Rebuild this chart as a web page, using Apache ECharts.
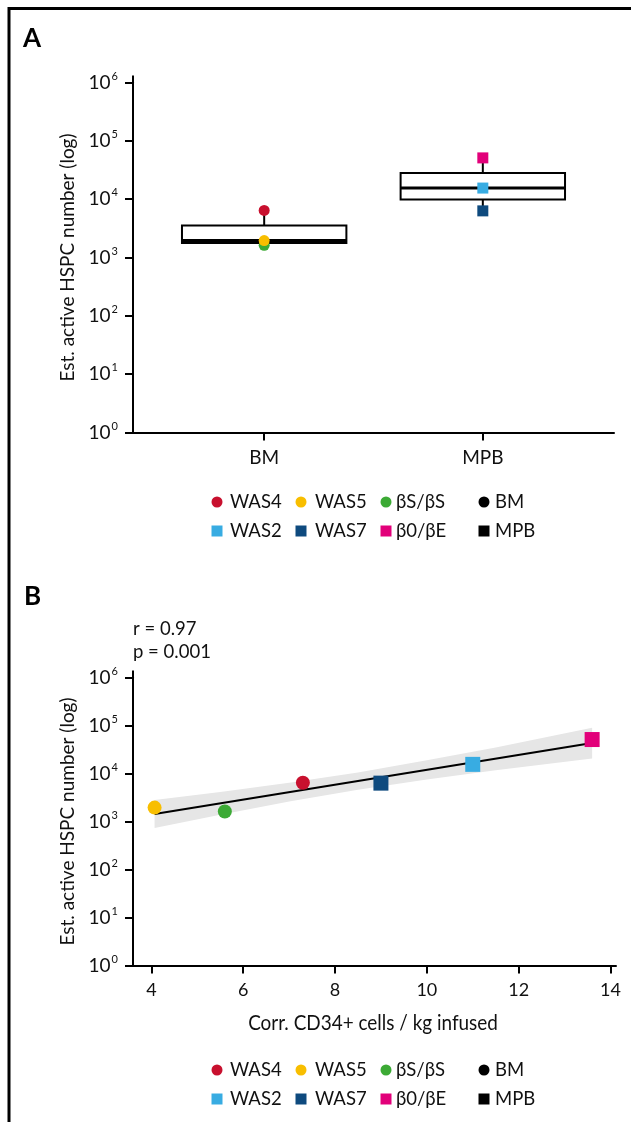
<!DOCTYPE html>
<html>
<head>
<meta charset="utf-8">
<script src="https://cdn.jsdelivr.net/npm/echarts@6/dist/echarts.min.js"></script>
<style>
html, body { margin: 0; padding: 0; background: #fff; }
#chart { width: 631px; height: 1122px; }
</style>
</head>
<body>
<div id="chart"></div>
<script>
// ---- data ----
const patients     = ['WAS4', 'WAS5', 'βS/βS', 'WAS2', 'WAS7', 'β0/βE'];
const cellSource   = ['BM', 'BM', 'BM', 'MPB', 'MPB', 'MPB'];
const hspcCounts   = [6400, 1950, 1620, 15500, 6300, 51000];
const cd34Infused  = [7.3, 4.07, 5.6, 11.0, 9.0, 13.6];
const sourceGroups = ['BM', 'MPB'];
const yExponents   = [0, 1, 2, 3, 4, 5, 6];
const xTicksB      = [4, 6, 8, 10, 12, 14];
// fitted trend and its confidence band (log scale)
const fitX       = [4.07, 13.6];
const fitY       = [1430, 43000];
const bandX      = [4.07, 5.5, 7, 8.5, 10, 11.5, 13.6];
const bandUpper  = [2800, 4100, 6400, 10500, 18800, 35000, 90000];
const bandLower  = [730, 1380, 2600, 4600, 7500, 11700, 20500];
const statLines  = ['r = 0.97', 'p = 0.001'];
const legendRows = [['WAS4', 'WAS5', 'βS/βS', 'BM'], ['WAS2', 'WAS7', 'β0/βE', 'MPB']];
const xTitleB    = 'Corr. CD34+ cells / kg infused';

// ---- styles ----
const FONT = "Lato, 'Noto Sans', sans-serif";
const palette = {
  'WAS4': '#C8102E', 'WAS5': '#F8BE00', 'βS/βS': '#3CAA35',
  'WAS2': '#38ACE2', 'WAS7': '#0E4A7E', 'β0/βE': '#E2007A',
  'BM': '#000', 'MPB': '#000'
};
const shapeOf = { 'BM': 'circle', 'MPB': 'rect' };
const BOX_WIDTH = 0.752; // in category units

// quantile (linear interpolation) on log10 values
function quantile(sorted, p) {
  const h = (sorted.length - 1) * p;
  const lo = Math.floor(h), hi = Math.ceil(h);
  return sorted[lo] + (sorted[hi] - sorted[lo]) * (h - lo);
}
const boxData = sourceGroups.map((g, gi) => {
  const logs = hspcCounts.filter((v, i) => cellSource[i] === g).map(Math.log10).sort((a, b) => a - b);
  return [gi + 1,
    Math.pow(10, logs[0]),
    Math.pow(10, quantile(logs, 0.25)),
    Math.pow(10, quantile(logs, 0.5)),
    Math.pow(10, quantile(logs, 0.75)),
    Math.pow(10, logs[logs.length - 1])];
});

const axisLineStyle = { color: '#000', width: 2 };

function yAxisFor(gridIndex) {
  return {
    type: 'log', gridIndex, logBase: 10,
    min: Math.pow(10, yExponents[0]), max: Math.pow(10, yExponents[yExponents.length - 1]),
    interval: 1, splitNumber: 6,
    name: 'Est. active HSPC number (log)', nameLocation: 'middle', nameGap: 55,
    nameTextStyle: { fontFamily: FONT, fontSize: 19, color: '#111' },
    axisLine: { show: true, lineStyle: axisLineStyle, symbol: ['none', 'rect'], symbolSize: [2, 14] },
    axisTick: { show: true, length: 8, lineStyle: { color: '#000', width: 2 } },
    splitLine: { show: false },
    minorTick: { show: false },
    axisLabel: {
      margin: 15, color: '#111',
      formatter: v => '{b|10}{s|' + Math.round(Math.log10(v)) + '}',
      rich: {
        b: { fontFamily: FONT, fontSize: 19, lineHeight: 24, color: '#111' },
        s: { fontFamily: FONT, fontSize: 11, lineHeight: 12, verticalAlign: 'top', color: '#111', padding: [0, 0, 0, 1] }
      }
    }
  };
}

const series = [];

// panel A: box plots built from the per-source values
series.push({
  type: 'custom', xAxisIndex: 0, yAxisIndex: 0, z: 2,
  data: boxData,
  renderItem(params, api) {
    const x = api.value(0);
    const pLo = api.coord([x, api.value(1)]);
    const pQ1 = api.coord([x, api.value(2)]);
    const pMed = api.coord([x, api.value(3)]);
    const pQ3 = api.coord([x, api.value(4)]);
    const pHi = api.coord([x, api.value(5)]);
    const half = api.size([BOX_WIDTH, 0])[0] / 2;
    const cx = pMed[0];
    const ln = { stroke: '#000', lineWidth: 2 };
    return {
      type: 'group',
      children: [
        { type: 'line', shape: { x1: cx, y1: pQ3[1], x2: cx, y2: pHi[1] }, style: ln },
        { type: 'line', shape: { x1: cx, y1: pQ1[1], x2: cx, y2: pLo[1] }, style: ln },
        { type: 'rect', shape: { x: cx - half, y: pQ3[1], width: half * 2, height: pQ1[1] - pQ3[1] },
          style: { fill: '#fff', stroke: '#000', lineWidth: 2 } },
        { type: 'line', shape: { x1: cx - half, y1: pMed[1], x2: cx + half, y2: pMed[1] },
          style: { stroke: '#000', lineWidth: 3 } }
      ]
    };
  }
});

// panel A points (green drawn beneath yellow)
const drawOrderA = [0, 2, 1, 3, 4, 5];
drawOrderA.forEach(i => {
  const shape = shapeOf[cellSource[i]];
  series.push({
    type: 'scatter', name: patients[i], xAxisIndex: 0, yAxisIndex: 0, z: 3,
    symbol: shape, symbolSize: 11,
    itemStyle: { color: palette[patients[i]], opacity: 1 },
    data: [[sourceGroups.indexOf(cellSource[i]) + 1, hspcCounts[i]]]
  });
});

// panel B: confidence band
series.push({
  type: 'custom', xAxisIndex: 1, yAxisIndex: 1, z: 1, silent: true,
  data: [[bandX[0], bandUpper[0]]],
  renderItem(params, api) {
    const pts = [];
    for (let i = 0; i < bandX.length; i++) pts.push(api.coord([bandX[i], bandUpper[i]]));
    for (let i = bandX.length - 1; i >= 0; i--) pts.push(api.coord([bandX[i], bandLower[i]]));
    return { type: 'polygon', shape: { points: pts }, style: { fill: '#E6E6E6' } };
  }
});
// panel B: fitted line
series.push({
  type: 'line', xAxisIndex: 1, yAxisIndex: 1, z: 2, symbol: 'none', silent: true,
  lineStyle: { color: '#000', width: 2 },
  data: fitX.map((x, i) => [x, fitY[i]])
});
// panel B points
patients.forEach((p, i) => {
  const shape = shapeOf[cellSource[i]];
  series.push({
    type: 'scatter', name: p + ' ', xAxisIndex: 1, yAxisIndex: 1, z: 3,
    symbol: shape, symbolSize: shape === 'circle' ? 14 : 15,
    itemStyle: { color: palette[p], opacity: 1 },
    data: [[cd34Infused[i], hspcCounts[i]]]
  });
});

// legends drawn as graphic groups
const legendCols = [217, 301, 386, 484];
const legendTextX = [230, 315, 396, 495];
function legendGraphics(rowY) {
  const out = [];
  legendRows.forEach((row, r) => {
    const y = rowY[r];
    row.forEach((name, c) => {
      const x = legendCols[c];
      const color = palette[name];
      if (r === 1) {
        out.push({ type: 'rect', shape: { x: x - 5.5, y: y - 5.5, width: 11, height: 11 }, style: { fill: color } });
      } else {
        out.push({ type: 'circle', shape: { cx: x, cy: y, r: 5.5 }, style: { fill: color } });
      }
      out.push({ type: 'text', x: legendTextX[c], y: y,
        style: { text: name, font: '18.5px ' + FONT, fill: '#111', textVerticalAlign: 'middle', textAlign: 'left' } });
    });
  });
  return out;
}

const graphic = [
  { type: 'polyline', shape: { points: [[9, 1122], [9, 8.5], [631, 8.5]] }, style: { stroke: '#000', lineWidth: 3, fill: null } },
  { type: 'text', x: 23, y: 39, style: { text: 'A', font: 'bold 26px ' + FONT, fill: '#000', textVerticalAlign: 'middle' } },
  { type: 'text', x: 24, y: 597, style: { text: 'B', font: 'bold 26px ' + FONT, fill: '#000', textVerticalAlign: 'middle' } },
  { type: 'text', x: 133, y: 629, style: { text: statLines[0], font: '18.5px ' + FONT, fill: '#111', textVerticalAlign: 'middle' } },
  { type: 'text', x: 133, y: 652, style: { text: statLines[1], font: '18.5px ' + FONT, fill: '#111', textVerticalAlign: 'middle' } },
  // narrow-set x-axis title of panel B
  { type: 'text', x: 373, y: 1023, scaleX: 0.86, originX: 0, originY: 0,
    style: { text: xTitleB, font: '22px ' + FONT, fill: '#111', textAlign: 'center', textVerticalAlign: 'middle' } }
].concat(legendGraphics([502, 531]), legendGraphics([1070, 1099]));

const option = {
  backgroundColor: '#fff',
  animation: false,
  grid: [
    { left: 133, right: 17, top: 82.5, bottom: 1122 - 432.5 },
    { left: 133, right: 15, top: 677.5, bottom: 1122 - 965.5 }
  ],
  xAxis: [
    {
      type: 'value', gridIndex: 0, min: 0.4, max: 2.6,
      axisLine: { show: true, onZero: false, lineStyle: axisLineStyle },
      axisTick: { show: true, customValues: [1, 2], length: 8, lineStyle: { color: '#000', width: 2 } },
      axisLabel: { customValues: [1, 2], margin: 16, fontFamily: FONT, fontSize: 19, color: '#111',
        formatter: v => sourceGroups[Math.round(v) - 1] },
      splitLine: { show: false }
    },
    {
      type: 'value', gridIndex: 1, min: 3.6, max: 14.12,
      axisLine: { show: true, onZero: false, lineStyle: axisLineStyle },
      axisTick: { show: true, customValues: xTicksB, length: 8, lineStyle: { color: '#000', width: 2 } },
      axisLabel: { customValues: xTicksB, margin: 16, fontFamily: FONT, fontSize: 18, color: '#111' },
      splitLine: { show: false }
    }
  ],
  yAxis: [yAxisFor(0), yAxisFor(1)],
  series,
  graphic
};

const chart = echarts.init(document.getElementById('chart'), null, { renderer: 'canvas' });
chart.setOption(option);
</script>
</body>
</html>
